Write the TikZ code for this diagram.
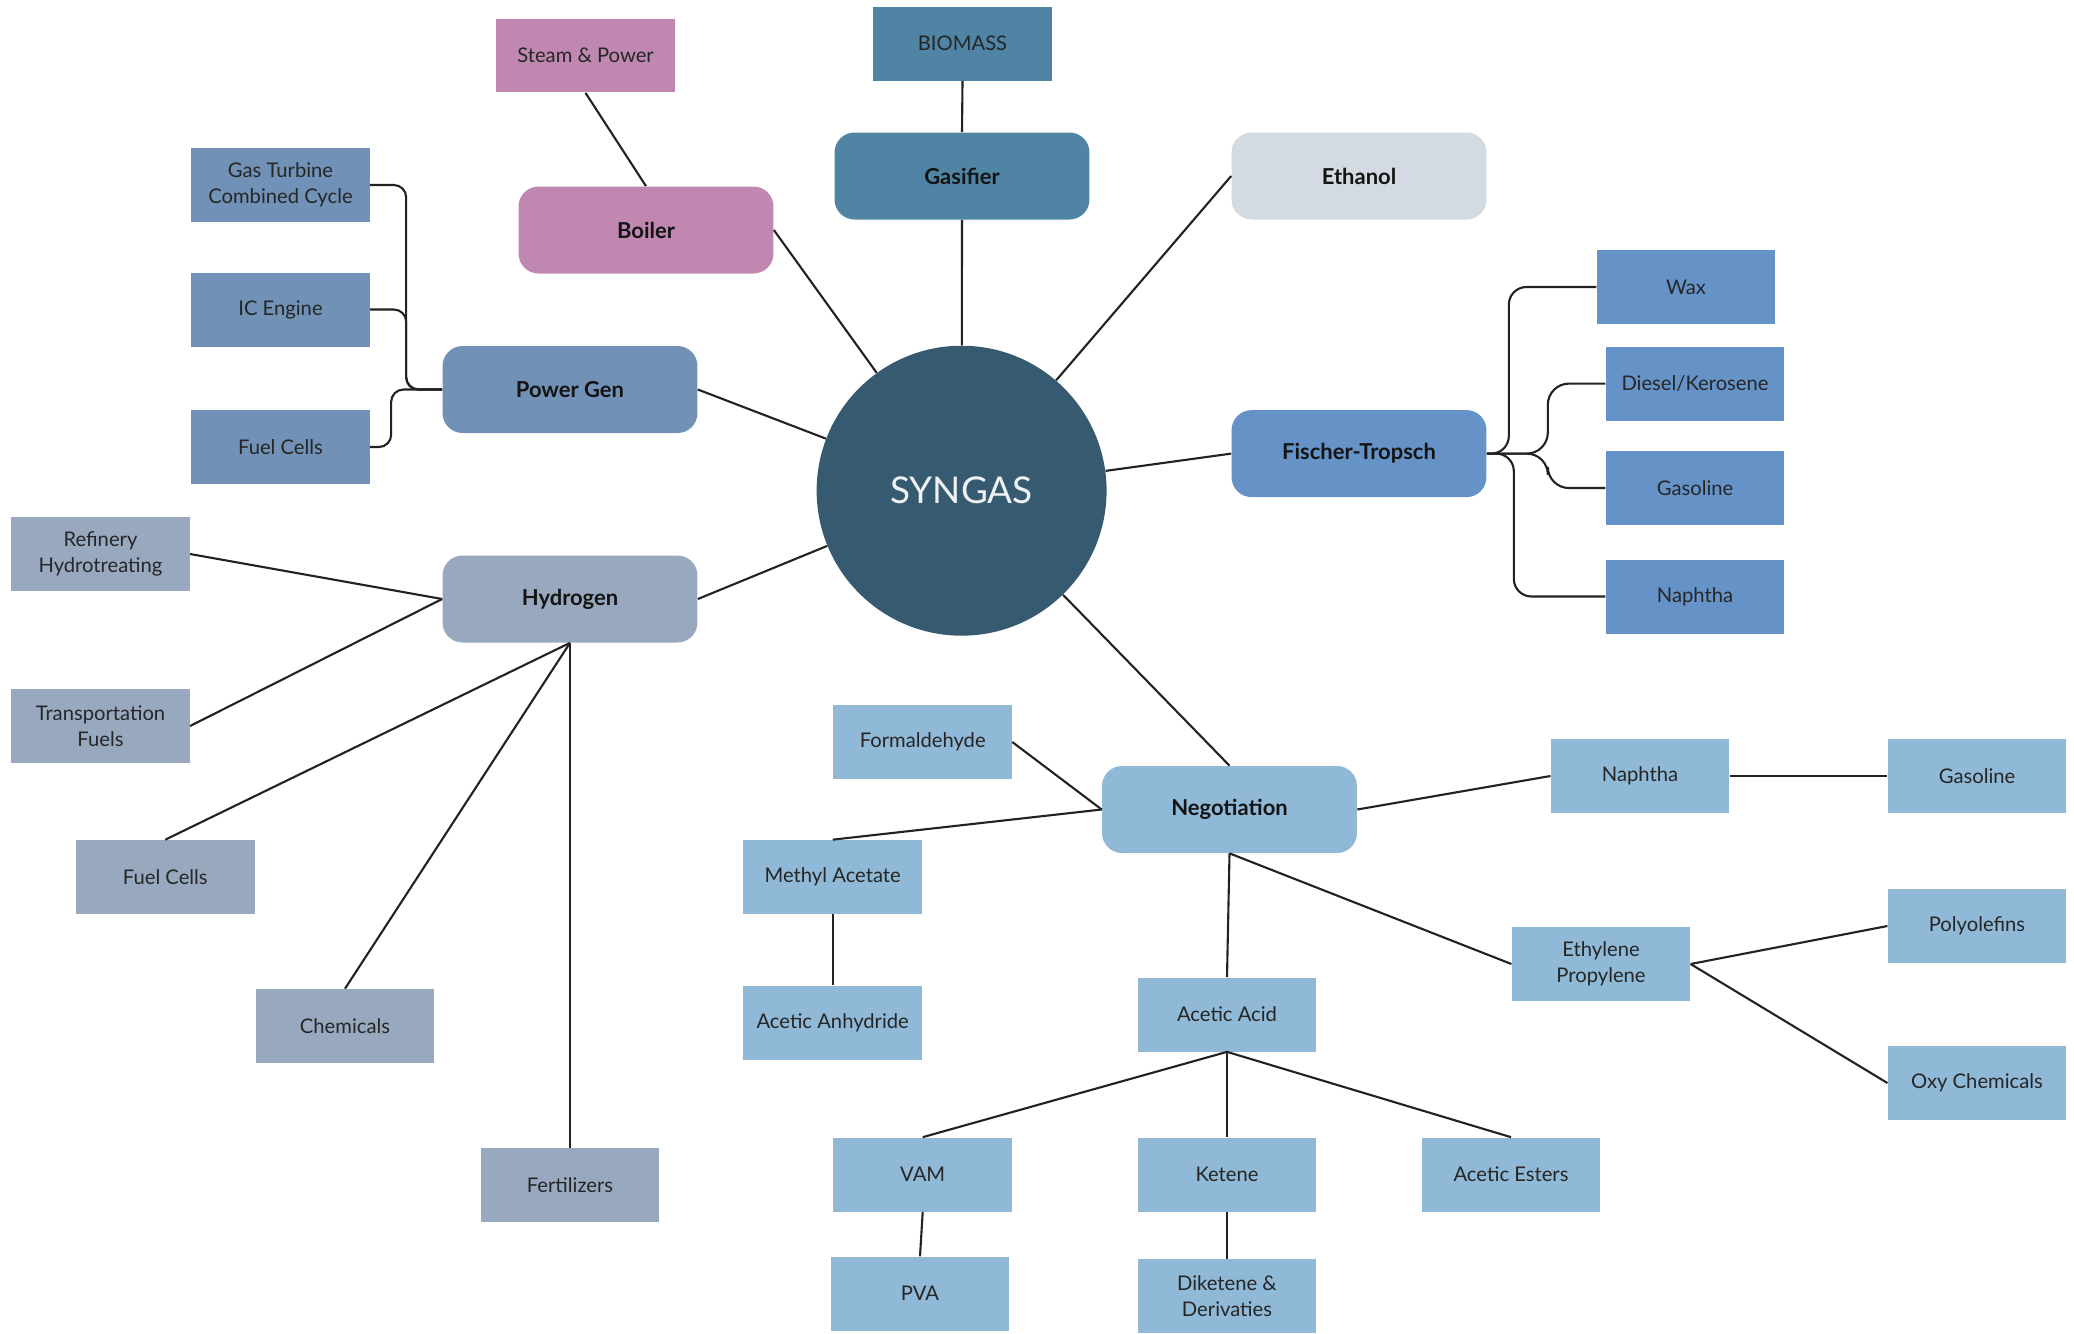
\documentclass[tikz,border=0pt]{standalone}
\usepackage{fontspec}
\setmainfont{Lato}
\usepackage{xcolor}
\usepackage{tikz}
\usetikzlibrary{positioning,calc,shapes.geometric}
\definecolor{steamcol}{HTML}{C088B0}
\definecolor{gascol}{HTML}{4F84A4}
\definecolor{ethcol}{HTML}{D3DAE2}
\definecolor{powcol}{HTML}{7191B6}
\definecolor{syncol}{HTML}{365A70}
\definecolor{ftcol}{HTML}{6593C8}
\definecolor{hydcol}{HTML}{98A9BF}
\definecolor{negcol}{HTML}{8FB9D6}
\definecolor{txtgray}{HTML}{262626}
\definecolor{txtdark}{HTML}{141414}
\definecolor{linegray}{HTML}{222222}
\tikzset{
  item/.style={rectangle, inner sep=2pt, minimum width=3.57cm, minimum height=1.48cm, align=center, text=txtgray, font=\fontsize{11.5}{15}\selectfont},
  hub/.style={rectangle, rounded corners=0.4cm, minimum width=5.1cm, minimum height=1.74cm, text=txtdark, font=\bfseries\fontsize{12.5}{15}\selectfont},
  conn/.style={draw=linegray, line width=1.2pt},
}

\begin{document}
\begin{tikzpicture}[x=0.02cm, y=-0.02cm]
  \useasboundingbox (0,0) rectangle (2074,1333);
  % centre
  \node[circle, fill=syncol, minimum size=5.8cm, inner sep=0, text=white!92!syncol, font=\fontsize{21}{25}\selectfont] (syngas) at (961.6,490.7) {SYNGAS};
  % upper part
  \node[item, fill=steamcol] (steam) at (585.5,55.5) {Steam \& Power};
  \node[hub, fill=steamcol] (boiler) at (646,230) {Boiler};
  \node[item, fill=gascol] (biomass) at (962.5,43.6) {BIOMASS};
  \node[hub, fill=gascol] (gasifier) at (962,176) {Gasifier};
  \node[hub, fill=ethcol] (ethanol) at (1359,176) {Ethanol};
  % power generation
  \node[hub, fill=powcol] (pgen) at (570,389.5) {Power Gen};
  \node[item, fill=powcol] (gtcc) at (280.5,185) {Gas Turbine\\Combined Cycle};
  \node[item, fill=powcol] (ice) at (280.5,309.5) {IC Engine};
  \node[item, fill=powcol] (fcpow) at (280.5,447) {Fuel Cells};
  % fischer-tropsch
  \node[hub, fill=ftcol] (ft) at (1359,453.6) {Fischer-Tropsch};
  \node[item, fill=ftcol] (wax) at (1686,287) {Wax};
  \node[item, fill=ftcol] (diesel) at (1695,383.6) {Diesel/Kerosene};
  \node[item, fill=ftcol] (ftgas) at (1695,488) {Gasoline};
  \node[item, fill=ftcol] (ftnaph) at (1695,596.5) {Naphtha};
  % hydrogen
  \node[hub, fill=hydcol] (hyd) at (570,599) {Hydrogen};
  \node[item, fill=hydcol] (refin) at (100.5,554) {Refinery\\Hydrotreating};
  \node[item, fill=hydcol] (transp) at (100.5,726) {Transportation\\Fuels};
  \node[item, fill=hydcol] (fchyd) at (165.3,877) {Fuel Cells};
  \node[item, fill=hydcol] (chem) at (345,1026) {Chemicals};
  \node[item, fill=hydcol] (fert) at (570,1185) {Fertilizers};
  % negotiation
  \node[hub, fill=negcol] (neg) at (1229.5,809.5) {Negotiation};
  \node[item, fill=negcol] (formal) at (922.7,742) {Formaldehyde};
  \node[item, fill=negcol] (methac) at (832.7,877) {Methyl Acetate};
  \node[item, fill=negcol] (anhyd) at (832.7,1022.5) {Acetic Anhydride};
  \node[item, fill=negcol] (negnaph) at (1640,776) {Naphtha};
  \node[item, fill=negcol] (neggas) at (1977,776) {Gasoline};
  \node[item, fill=negcol] (ethyl) at (1601,964) {Ethylene\\Propylene};
  \node[item, fill=negcol] (polyol) at (1977,926) {Polyolefins};
  \node[item, fill=negcol] (oxy) at (1977,1083) {Oxy Chemicals};
  \node[item, fill=negcol] (acid) at (1227,1014.5) {Acetic Acid};
  \node[item, fill=negcol] (vam) at (922.7,1174.5) {VAM};
  \node[item, fill=negcol] (ketene) at (1227,1174.5) {Ketene};
  \node[item, fill=negcol] (esters) at (1511,1174.5) {Acetic Esters};
  \node[item, fill=negcol] (pva) at (920,1293.6) {PVA};
  \node[item, fill=negcol] (diket) at (1227,1296) {Diketene \&\\Derivaties};
  % spokes
  \draw[conn] (boiler.east) -- (syngas);
  \draw[conn] (gasifier.south) -- (syngas);
  \draw[conn] (ethanol.west) -- (syngas);
  \draw[conn] (pgen.east) -- (syngas);
  \draw[conn] (ft.west) -- (syngas);
  \draw[conn] (hyd.east) -- (syngas);
  \draw[conn] (neg.north) -- (syngas);
  \draw[conn] (steam.south) -- (boiler.north);
  \draw[conn] (biomass.south) -- (gasifier.north);
  % brackets
  \draw[conn, rounded corners=7pt] (gtcc.east) -| ($(pgen.west)+(-36,0)$) -- (pgen.west);
  \draw[conn, rounded corners=7pt] (ice.east) -| ($(pgen.west)+(-36,0)$) -- (pgen.west);
  \draw[conn, rounded corners=7pt] (fcpow.east) -| ($(pgen.west)+(-51,0)$) -- (pgen.west);
  \draw[conn, rounded corners=10pt] (ft.east) -- ++(22,0) |- (wax.west);
  \draw[conn, rounded corners=12pt] (ft.east) -- ++(61,0) |- (diesel.west);
  \draw[conn, rounded corners=12pt] (ft.east) -- ++(61,0) |- (ftgas.west);
  \draw[conn, rounded corners=10pt] (ft.east) -- ++(27,0) |- (ftnaph.west);
  % hydrogen uses
  \draw[conn] (refin.east) -- (hyd.west);
  \draw[conn] (transp.east) -- (hyd.west);
  \draw[conn] (fchyd.north) -- (hyd.south);
  \draw[conn] (chem.north) -- (hyd.south);
  \draw[conn] (fert.north) -- (hyd.south);
  % negotiation tree
  \draw[conn] (formal.east) -- (neg.west);
  \draw[conn] (methac.north) -- (neg.west);
  \draw[conn] (methac.south) -- (anhyd.north);
  \draw[conn] (neg.east) -- (negnaph.west);
  \draw[conn] (negnaph.east) -- (neggas.west);
  \draw[conn] (neg.south) -- (ethyl.west);
  \draw[conn] (neg.south) -- (acid.north);
  \draw[conn] (ethyl.east) -- (polyol.west);
  \draw[conn] (ethyl.east) -- (oxy.west);
  \draw[conn] (acid.south) -- (vam.north);
  \draw[conn] (acid.south) -- (ketene.north);
  \draw[conn] (acid.south) -- (esters.north);
  \draw[conn] (vam.south) -- (pva.north);
  \draw[conn] (ketene.south) -- (diket.north);
\end{tikzpicture}
\end{document}
